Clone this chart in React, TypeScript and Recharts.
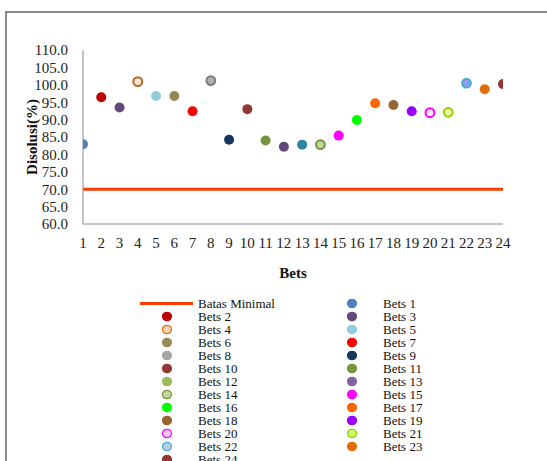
import { ComposedChart, Line, Scatter, XAxis, YAxis, Legend, Label } from 'recharts'

const BETS = [1, 2, 3, 4, 5, 6, 7, 8, 9, 10, 11, 12, 13, 14, 15, 16, 17, 18, 19, 20, 21, 22, 23, 24]
const DISOLUSI = [82.9, 96.4, 93.5, 100.9, 96.8, 96.8, 92.4, 101.2, 84.2, 93.0, 84.0, 82.2, 82.8, 82.8, 85.4, 89.9, 94.7, 94.2, 92.4, 92.0, 92.1, 100.5, 98.7, 100.2]
const BATAS_MINIMAL = 70
const Y_TICKS = [60, 65, 70, 75, 80, 85, 90, 95, 100, 105, 110]

const DOT_FILL = ['#4F81BD', '#C00000', '#604A7B', '#FCE4D0', '#93CDDD', '#948A54', '#FF0000', '#B0B0B0', '#17375E', '#953735', '#77933C', '#604A7B',
  '#31859C', '#C3D69B', '#FF00FF', '#00FF00', '#FF6600', '#996633', '#9900FF', '#FFE6FF', '#E2FF99', '#8E9CF0', '#E46C0A', '#953735']
const DOT_STROKE = ['#4F81BD', '#C00000', '#604A7B', '#B8651B', '#93CDDD', '#948A54', '#FF0000', '#7F7F7F', '#17375E', '#953735', '#77933C', '#604A7B',
  '#31859C', '#77933C', '#FF00FF', '#00FF00', '#FF6600', '#996633', '#9900FF', '#FF00FF', '#99CC00', '#4BACC6', '#E46C0A', '#953735']
const LEGEND_FILL = ['#4F81BD', '#C00000', '#604A7B', '#FCD5B5', '#93CDDD', '#948A54', '#FF0000', '#A6A6A6', '#17375E', '#953735', '#77933C', '#9BBB59',
  '#8064A2', '#C3D69B', '#FF00FF', '#00FF00', '#FF6600', '#996633', '#9900FF', '#FFCCFF', '#CCFF66', '#B9CDE5', '#E46C0A', '#953735']
const LEGEND_STROKE = ['#4F81BD', '#C00000', '#604A7B', '#E46C0A', '#93CDDD', '#948A54', '#FF0000', '#A6A6A6', '#17375E', '#953735', '#77933C', '#9BBB59',
  '#8064A2', '#77933C', '#FF00FF', '#00FF00', '#FF6600', '#996633', '#9900FF', '#FF00FF', '#99CC00', '#4BACC6', '#E46C0A', '#953735']

const LIMIT_COLOR = '#FF3D00'
const FONT = "'Liberation Serif', 'Times New Roman', serif"

const lineData = BETS.map(b => ({ x: b, min: BATAS_MINIMAL }))

const ROW = 13

function LegendBox() {
  const items: { col: number, row: number, idx: number }[] = []
  BETS.forEach((b, i) => {
    if (b % 2 === 0) items.push({ col: 0, row: b / 2, idx: i })
    else items.push({ col: 1, row: (b - 1) / 2, idx: i })
  })
  return (
    <div style={{ position: 'relative', width: 547, height: 13 * ROW, fontFamily: FONT, fontSize: 13, color: '#111' }}>
      <svg style={{ position: 'absolute', left: 140, top: 0 }} width={54} height={ROW}>
        <line x1={0} x2={53} y1={6.5} y2={6.5} stroke={LIMIT_COLOR} strokeWidth={3} />
      </svg>
      <div style={{ position: 'absolute', left: 198, top: 0, lineHeight: ROW + 'px', whiteSpace: 'nowrap' }}>Batas Minimal</div>
      {items.map(it => {
        const cx = it.col === 0 ? 167 : 352
        const tx = it.col === 0 ? 198 : 383
        return (
          <div key={it.idx}>
            <svg style={{ position: 'absolute', left: cx - 6, top: it.row * ROW }} width={12} height={ROW}>
              <ellipse cx={6} cy={6.5} rx={4.5} ry={4.2} fill={LEGEND_FILL[it.idx]} stroke={LEGEND_STROKE[it.idx]} strokeWidth={1.2} />
            </svg>
            <div style={{ position: 'absolute', left: tx, top: it.row * ROW, lineHeight: ROW + 'px', whiteSpace: 'nowrap' }}>Bets {BETS[it.idx]}</div>
          </div>
        )
      })}
    </div>
  )
}

export default function App() {
  return (
    <div style={{ position: 'absolute', left: 0, top: 0, width: 547, height: 461, overflow: 'hidden', background: '#fff' }}>
      <div style={{ position: 'absolute', left: 5, top: 11, width: 700, height: 600, borderTop: '2px solid #8C8C8C', borderLeft: '2px solid #8C8C8C' }} />
      <ComposedChart width={547} height={461} data={lineData} margin={{ top: 50, right: 44, left: 0, bottom: 177 }}
        style={{ position: 'absolute', left: 0, top: 0, fontFamily: FONT }}>
        <XAxis dataKey="x" type="number" domain={[1, 24]} ticks={BETS} interval={0} allowDataOverflow
          height={60} tickLine={false} tickSize={0} tickMargin={13} stroke="#8C8C8C"
          tick={{ fontSize: 15, fill: '#222', fontFamily: FONT }}>
          <Label value="Bets" position="insideBottom" offset={6} style={{ fontSize: 15, fontWeight: 'bold', fill: '#111', fontFamily: FONT }} />
        </XAxis>
        <YAxis type="number" domain={[60, 110]} ticks={Y_TICKS} interval={0} width={83}
          tickLine={false} tickSize={0} tickMargin={15} stroke="#8C8C8C"
          tickFormatter={(v: number) => v.toFixed(1)}
          tick={{ fontSize: 15, fill: '#222', fontFamily: FONT }}>
          <Label value="Disolusi(%)" angle={-90} position="insideLeft" offset={32}
            style={{ fontSize: 15, fontWeight: 'bold', fill: '#111', textAnchor: 'middle', fontFamily: FONT }} />
        </YAxis>
        <Line dataKey="min" stroke={LIMIT_COLOR} strokeWidth={3} dot={false} isAnimationActive={false} name="Batas Minimal" />
        {BETS.map((b, i) => (
          <Scatter key={b} name={'Bets ' + b} data={[{ x: b, y: DISOLUSI[i] }]} dataKey="y" isAnimationActive={false}
            shape={(p: any) => (
              <circle cx={p.cx} cy={p.cy} r={DOT_FILL[i] === DOT_STROKE[i] ? 5 : 4.4} fill={DOT_FILL[i]}
                stroke={DOT_STROKE[i]} strokeWidth={DOT_FILL[i] === DOT_STROKE[i] ? 0 : 2} />
            )} />
        ))}
        <Legend layout="horizontal" verticalAlign="middle" align="center" content={() => <LegendBox />}
          wrapperStyle={{ top: 297, left: 0, width: 547 }} />
      </ComposedChart>
    </div>
  )
}
